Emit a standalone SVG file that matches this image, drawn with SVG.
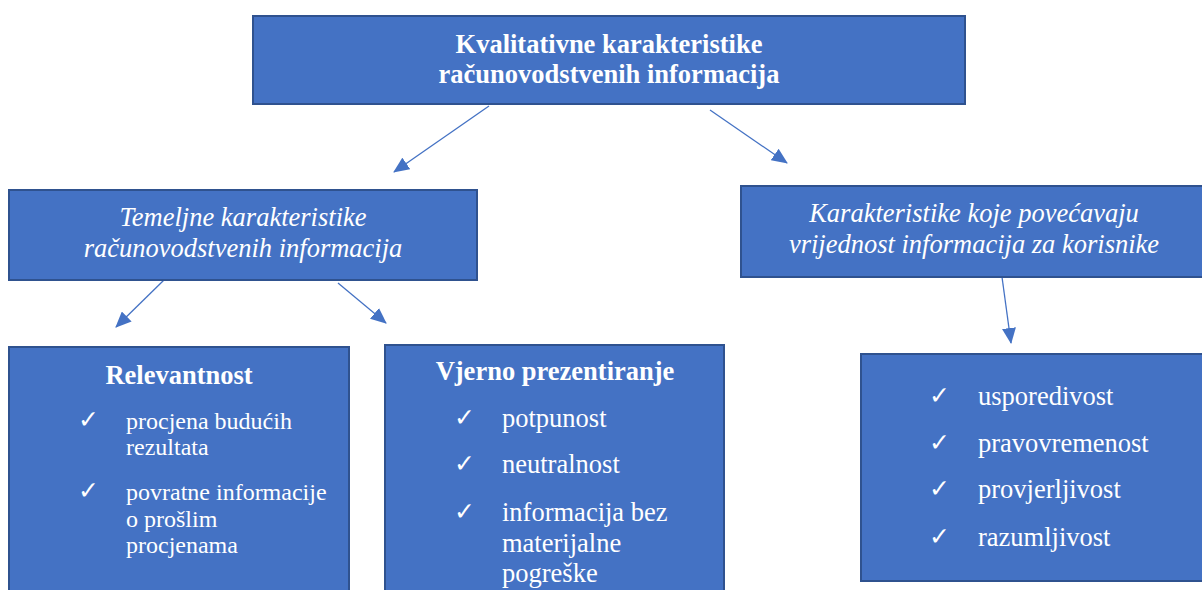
<svg xmlns="http://www.w3.org/2000/svg" width="1202" height="590" viewBox="0 0 1202 590">
  <defs>
    <marker id="arrow" viewBox="0 0 16 14" refX="15" refY="7" markerWidth="16" markerHeight="14" markerUnits="userSpaceOnUse" orient="auto">
      <path d="M0,0 L16,7 L0,14 Z" fill="#4472C4"/>
    </marker>
    <style>
      .box { fill: #4472C4; stroke: #2F528F; stroke-width: 2; }
      .t { font-family: "Liberation Serif", "Times New Roman", serif; fill: #FFFFFF; }
      .big { font-size: 26.5px; }
      .small { font-size: 24px; }
      .b { font-weight: bold; }
      .i { font-style: italic; }
      .mid { text-anchor: middle; }
      .chk { font-family: "DejaVu Sans", sans-serif; font-size: 25px; font-weight: bold; fill: #FFFFFF; }
      .conn { stroke: #4472C4; stroke-width: 1.3; fill: none; marker-end: url(#arrow); }
    </style>
  </defs>
  <rect width="1202" height="590" fill="#FFFFFF"/>

  <g id="connectors">
    <line class="conn" x1="489" y1="106" x2="394" y2="172"/>
    <line class="conn" x1="710" y1="110" x2="787" y2="163"/>
    <line class="conn" x1="164" y1="280" x2="116" y2="327"/>
    <line class="conn" x1="338" y1="283" x2="386" y2="323"/>
    <line class="conn" x1="1002" y1="277" x2="1011" y2="343"/>
  </g>

  <g id="node-root">
    <rect class="box" x="253" y="16" width="712" height="88"/>
    <text class="t big b mid" x="609" y="53">Kvalitativne karakteristike</text>
    <text class="t big b mid" x="609" y="83">računovodstvenih informacija</text>
  </g>

  <g id="node-temeljne">
    <rect class="box" x="9" y="190" width="468" height="90"/>
    <text class="t big i mid" x="243" y="226">Temeljne karakteristike</text>
    <text class="t big i mid" x="243" y="257">računovodstvenih informacija</text>
  </g>

  <g id="node-povecavaju">
    <rect class="box" x="741" y="186" width="470" height="91"/>
    <text class="t big i mid" x="974" y="222">Karakteristike koje povećavaju</text>
    <text class="t big i mid" x="974" y="253">vrijednost informacija za korisnike</text>
  </g>

  <g id="node-relevantnost">
    <rect class="box" x="9" y="347" width="340" height="260"/>
    <text class="t big b mid" x="179" y="384">Relevantnost</text>
    <text class="chk" x="78" y="428">✓</text>
    <text class="t small" x="126" y="429">procjena budućih</text>
    <text class="t small" x="126" y="455">rezultata</text>
    <text class="chk" x="78" y="499">✓</text>
    <text class="t small" x="126" y="500">povratne informacije</text>
    <text class="t small" x="126" y="527">o prošlim</text>
    <text class="t small" x="126" y="553">procjenama</text>
  </g>

  <g id="node-vjerno">
    <rect class="box" x="385" y="345" width="339" height="262"/>
    <text class="t big b mid" x="555" y="380">Vjerno prezentiranje</text>
    <text class="chk" x="454" y="426">✓</text>
    <text class="t big" x="502" y="427">potpunost</text>
    <text class="chk" x="454" y="472">✓</text>
    <text class="t big" x="502" y="473">neutralnost</text>
    <text class="chk" x="454" y="520">✓</text>
    <text class="t big" x="502" y="521">informacija bez</text>
    <text class="t big" x="502" y="552">materijalne</text>
    <text class="t big" x="502" y="582">pogreške</text>
  </g>

  <g id="node-usporedivost">
    <rect class="box" x="861" y="354" width="350" height="227"/>
    <text class="chk" x="929" y="404">✓</text>
    <text class="t big" x="978" y="405">usporedivost</text>
    <text class="chk" x="929" y="451">✓</text>
    <text class="t big" x="978" y="452">pravovremenost</text>
    <text class="chk" x="929" y="497">✓</text>
    <text class="t big" x="978" y="498">provjerljivost</text>
    <text class="chk" x="929" y="545">✓</text>
    <text class="t big" x="978" y="546">razumljivost</text>
  </g>
</svg>
